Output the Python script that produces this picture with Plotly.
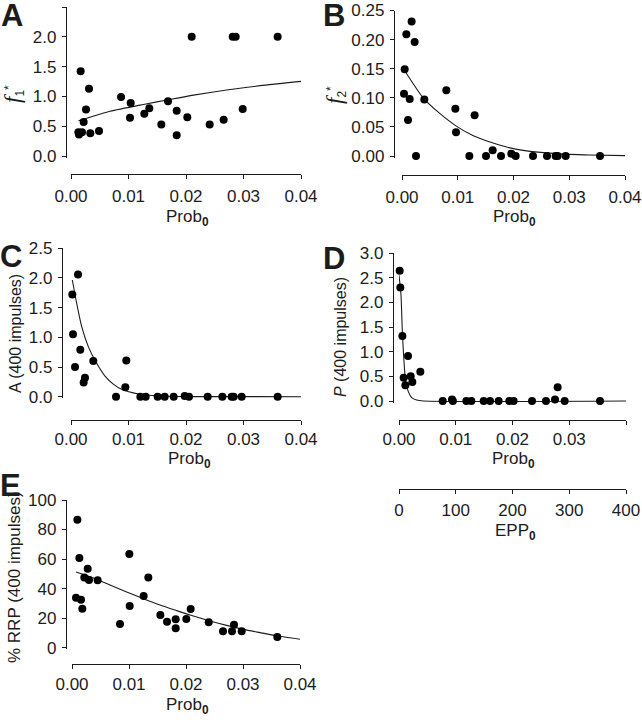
import plotly.graph_objects as go

# ---------------- data ----------------
A_x = [0.00168, 0.00313, 0.00261, 0.0022, 0.00128, 0.00139, 0.00191, 0.00336, 0.00487, 0.0087,
       0.01038, 0.01026, 0.01275, 0.01362, 0.01571, 0.01687, 0.01838, 0.01838, 0.02023, 0.02099,
       0.02412, 0.02655, 0.02812, 0.02864, 0.02986, 0.03594]
A_y = [1.42, 1.13, 0.78, 0.57, 0.40, 0.36, 0.40, 0.38, 0.42, 0.99,
       0.89, 0.64, 0.71, 0.80, 0.53, 0.92, 0.76, 0.35, 0.65, 2.0,
       0.53, 0.61, 2.0, 2.0, 0.79, 2.0]
A_fit_x = [0.0013, 0.0068, 0.0126, 0.0169, 0.0213, 0.0271, 0.0329, 0.0406]
A_fit_y = [0.59, 0.75, 0.865, 0.944, 1.022, 1.107, 1.18, 1.258]

B_x = [0.00173, 0.00078, 0.00227, 0.00048, 0.00036, 0.00138, 0.00108, 0.00251, 0.004, 0.00795,
       0.00957, 0.00969, 0.01303, 0.01208, 0.01507, 0.01626, 0.01776, 0.01961, 0.02039, 0.0235,
       0.02601, 0.02756, 0.02792, 0.02936, 0.03552]
B_y = [0.231, 0.209, 0.196, 0.149, 0.107, 0.098, 0.062, 0.0, 0.097, 0.113,
       0.081, 0.041, 0.070, 0.0, 0.0, 0.010, 0.0, 0.004, 0.0, 0.0,
       0.0, 0.0, 0.0, 0.0, 0.0]
B_fit_x = [0.00066, 0.00383, 0.00682, 0.00981, 0.0128, 0.01578, 0.01877, 0.02176, 0.02774, 0.03372, 0.04]
B_fit_y = [0.144, 0.0995, 0.0727, 0.0509, 0.0349, 0.024, 0.0154, 0.0097, 0.004, 0.0017, 0.0006]

C_x = [0.00122, 0.00023, 0.00035, 0.00162, 0.0007, 0.0022, 0.00243, 0.00388, 0.00783, 0.00962,
       0.00945, 0.01206, 0.01299, 0.01507, 0.01629, 0.01786, 0.01977, 0.02052, 0.02377, 0.02632,
       0.02794, 0.02829, 0.02968, 0.03594]
C_y = [2.06, 1.72, 1.05, 0.79, 0.50, 0.24, 0.32, 0.60, 0.0, 0.61,
       0.16, 0.0, 0.0, 0.0, 0.0, 0.0, 0.01, 0.0, 0.0, 0.0,
       0.0, 0.0, 0.0, 0.0]
C_fit_x = [0.00023, 0.00099, 0.00186, 0.00301, 0.00446, 0.00591, 0.00736, 0.00881, 0.01171, 0.01461, 0.0204, 0.0404]
C_fit_y = [1.966, 1.573, 1.18, 0.843, 0.562, 0.348, 0.213, 0.124, 0.045, 0.017, 0.002, 0.0]

D_x = [0.00012, 0.00023, 0.00059, 0.00159, 0.00082, 0.00112, 0.00206, 0.00235, 0.00376, 0.0077,
       0.00934, 0.0095, 0.01187, 0.01275, 0.01492, 0.01604, 0.01756, 0.01944, 0.0202, 0.02344,
       0.0259, 0.02749, 0.02796, 0.02919, 0.03542]
D_y = [2.64, 2.30, 1.32, 0.91, 0.47, 0.32, 0.50, 0.385, 0.595, 0.0,
       0.03, 0.0, 0.0, 0.0, 0.0, 0.0, 0.0, 0.0, 0.0, 0.0,
       0.0, 0.03, 0.28, 0.0, 0.0]
D_fit_x = [0.0, 0.00035, 0.00059, 0.00088, 0.00117, 0.00164, 0.00223, 0.00311, 0.00429, 0.0401]
D_fit_y = [2.55, 2.15, 1.4, 0.8, 0.39, 0.19, 0.068, 0.02, 0.0, 0.0]

E_x = [0.00094, 0.00129, 0.00275, 0.00216, 0.00298, 0.0045, 0.0007, 0.00158, 0.00181, 0.01006,
       0.01339, 0.01257, 0.01012, 0.00842, 0.0155, 0.01667, 0.01819, 0.01819, 0.02082, 0.02006,
       0.02398, 0.02649, 0.02807, 0.02842, 0.02977, 0.03602]
E_y = [86.7, 60.7, 53.5, 47.6, 45.8, 45.6, 33.9, 32.5, 26.4, 63.4,
       47.6, 35.0, 28.2, 16.0, 22.1, 17.6, 19.2, 13.1, 26.2, 19.4,
       17.2, 11.1, 11.1, 15.6, 11.1, 7.2]
E_fit_x = [0.0007, 0.00374, 0.00667, 0.00959, 0.01251, 0.01544, 0.01836, 0.02129, 0.02421, 0.02713,
           0.03006, 0.03298, 0.0359, 0.0406]
E_fit_y = [51.2, 47.2, 42.4, 37.7, 33.2, 28.9, 25.1, 21.4, 18.1, 15.1, 12.4, 10.2, 8.1, 5.4]

prob_ticks = [0.0, 0.01, 0.02, 0.03, 0.04]
prob_ticktext = ["0.00", "0.01", "0.02", "0.03", "0.04"]
epp_ticks = [0, 100, 200, 300, 400]
A_yticks = [0.0, 0.5, 1.0, 1.5, 2.0, 2.5]
B_yticks = [0.0, 0.05, 0.10, 0.15, 0.20, 0.25]
C_yticks = [0.0, 0.5, 1.0, 1.5, 2.0, 2.5]
D_yticks = [0.0, 0.5, 1.0, 1.5, 2.0, 2.5, 3.0]
E_yticks = [0, 20, 40, 60, 80, 100]

# ---------------- layout geometry (pixels) ----------------
W, H = 642, 720
INK = "#1c1c1c"
FONT = "Liberation Sans, Arial, sans-serif"


def lin(v, v0, p0, v1, p1):
    return p0 + (v - v0) * (p1 - p0) / (v1 - v0)


# x0/x1: pixel of Prob 0 and 0.04; xl: x-axis line row; y0/yt: rows of y=0 and top value
geo = {
    "A": dict(x0=71, x1=301, xl=174, y0=156, yt=7, ytv=2.5, ylo=-0.03, yl=66, so=2),
    "B": dict(x0=402, x1=625, xl=175, y0=156, yt=10.5, ytv=0.25, ylo=-0.003, yl=394, so=2),
    "C": dict(x0=71, x1=301, xl=420, y0=396.7, yt=248.3, ytv=2.5, ylo=-0.03, yl=62, so=-1),
    "D": dict(x0=399, x1=626, xl=420, y0=401, yt=253, ytv=3.0, ylo=-0.035, yl=393, so=-1),
    "E": dict(x0=72, x1=300, xl=664, y0=647.7, yt=500, ytv=100, ylo=-1.2, yl=66, so=0),
}

data = {
    "A": (A_x, A_y, A_fit_x, A_fit_y, A_yticks, "{:.1f}"),
    "B": (B_x, B_y, B_fit_x, B_fit_y, B_yticks, "{:.2f}"),
    "C": (C_x, C_y, C_fit_x, C_fit_y, C_yticks, "{:.1f}"),
    "D": (D_x, D_y, D_fit_x, D_fit_y, D_yticks, "{:.1f}"),
    "E": (E_x, E_y, E_fit_x, E_fit_y, E_yticks, "{:.0f}"),
}

fig = go.Figure()
axis_common = dict(
    showline=True, linecolor=INK, linewidth=1.3, ticks="outside", ticklen=4,
    tickwidth=1.3, tickcolor=INK, showgrid=False, zeroline=False, automargin=False,
    tickfont=dict(family=FONT, size=17, color=INK), fixedrange=True,
)

for i, key in enumerate(["A", "B", "C", "D", "E"], start=1):
    g = geo[key]
    xs, ys, fx, fy, yt, fmt = data[key]
    xa = "x" if i == 1 else f"x{i}"
    ya = "y" if i == 1 else f"y{i}"
    fig.add_trace(go.Scatter(x=fx, y=fy, mode="lines", xaxis=xa, yaxis=ya,
                             line=dict(color=INK, width=1.1, shape="spline", smoothing=0.6),
                             hoverinfo="skip", showlegend=False))
    fig.add_trace(go.Scatter(x=xs, y=ys, mode="markers", xaxis=xa, yaxis=ya,
                             marker=dict(color="black", size=8), cliponaxis=False,
                             showlegend=False))
    ylo_px = lin(g["ylo"], 0, g["y0"], g["ytv"], g["yt"])
    xdom = [g["x0"] / W, g["x1"] / W]
    ydom = [1 - ylo_px / H, 1 - g["yt"] / H]
    fig.update_layout({
        ("xaxis" if i == 1 else f"xaxis{i}"): dict(
            axis_common, domain=xdom, range=[0, 0.04], anchor="free",
            position=1 - g["xl"] / H, tickvals=prob_ticks, ticktext=prob_ticktext,
            ticklabelstandoff=g["so"]),
        ("yaxis" if i == 1 else f"yaxis{i}"): dict(
            axis_common, domain=ydom, range=[g["ylo"], g["ytv"]], anchor="free",
            position=g["yl"] / W, tickvals=yt, ticktext=[fmt.format(v) for v in yt],
            ticklabelstandoff=2),
    })

# EPP0 axis under panel D
gD = geo["D"]
fig.add_trace(go.Scatter(x=[0, 400], y=[None, None], mode="markers", xaxis="x6", yaxis="y4",
                         hoverinfo="skip", showlegend=False))
fig.update_layout(xaxis6=dict(
    axis_common, domain=[gD["x0"] / W, gD["x1"] / W], range=[0, 400], anchor="free",
    overlaying="x4", position=1 - 489 / H, tickvals=epp_ticks,
    ticktext=[str(v) for v in epp_ticks], ticklabelstandoff=1))

ann = []


def add_text(text, xpx, ypx, size=17, angle=0, family=FONT):
    ann.append(dict(text=text, x=xpx / W, y=1 - ypx / H, xref="paper", yref="paper",
                    showarrow=False, textangle=angle, xanchor="center", yanchor="middle",
                    font=dict(family=family, size=size, color=INK)))


# panel letters
for letter, (lx, ly) in {"A": (12, 15), "B": (334, 15), "C": (11, 256),
                         "D": (334, 258), "E": (11, 485)}.items():
    add_text(f"<b>{letter}</b>", lx, ly, size=31)

# x titles
prob_title = "Prob<sub><b>0</b></sub>"
for (tx, ty) in [(188, 218), (514, 218), (190, 460), (513, 460), (188, 706)]:
    add_text(prob_title, tx, ty)
add_text("EPP<sub><b>0</b></sub>", 515, 532)

# y titles
add_text("<span style='font-family:Liberation Serif;font-size:23px'><i>f</i></span><sub>1</sub><sup>*</sup>",
         14, 94, angle=-90)
add_text("<span style='font-family:Liberation Serif;font-size:23px'><i>f</i></span><sub>2</sub><sup>*</sup>",
         336, 95, angle=-90)
add_text("A (400 impulses)", 15, 334, size=16, angle=-90)
add_text("<i>P</i> (400 impulses)", 340, 337, size=16, angle=-90)
add_text("% RRP (400 impulses)", 14, 577, size=17, angle=-90)

fig.update_layout(
    width=W, height=H, margin=dict(l=0, r=0, t=0, b=0, pad=0, autoexpand=False),
    paper_bgcolor="white", plot_bgcolor="white",
    annotations=ann, showlegend=False,
)

fig.write_html(
    "out.html",
    config={"displayModeBar": False},
    post_script="document.body.style.margin='0';document.body.style.overflow='hidden';",
)
